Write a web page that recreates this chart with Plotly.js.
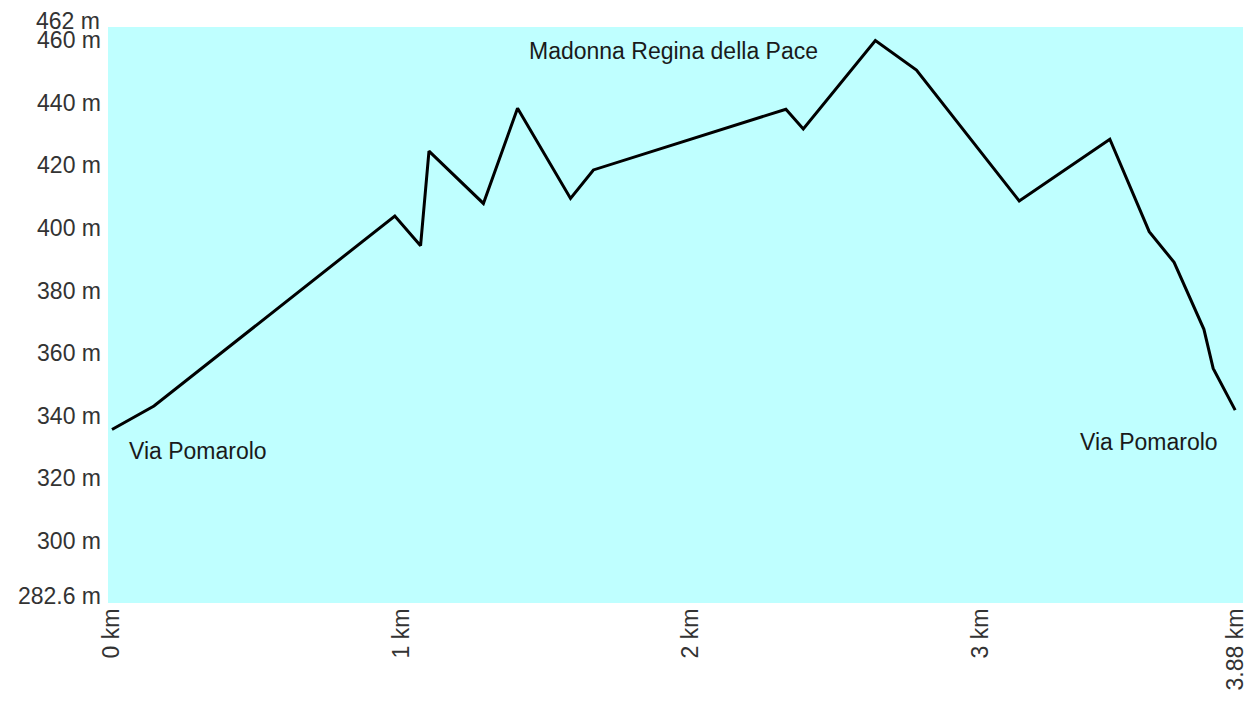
<!DOCTYPE html>
<html>
<head>
<meta charset="utf-8">
<script src="https://cdn.plot.ly/plotly-3.0.1.min.js"></script>
<style>html,body{margin:0;padding:0;background:#fff;}#chart{width:1252px;height:702px;}</style>
</head>
<body>
<div id="chart"></div>
<script>
// Distance along route (km) and elevation (m)
const distanceKm = [0, 0.145, 0.977, 1.066, 1.095, 1.283, 1.401, 1.584, 1.663, 2.328, 2.388, 2.637, 2.779, 3.134, 3.447, 3.583, 3.669, 3.772, 3.804, 3.88];
const elevationM = [335.6, 343.1, 403.8, 394.3, 424.5, 407.8, 438.2, 409.4, 418.5, 437.9, 431.6, 459.8, 450.4, 408.6, 428.3, 398.8, 389.0, 367.6, 355.1, 341.8];

// Axis ticks
const xTickVals = [0, 1, 2, 3, 3.88];
const xTickText = ["0 km", "1 km", "2 km", "3 km", "3.88 km"];
const yTickVals = [282.6, 300, 320, 340, 360, 380, 400, 420, 440, 460];
const yTickText = ["282.6 m", "300 m", "320 m", "340 m", "360 m", "380 m", "400 m", "420 m", "440 m", "460 m"];
const yTopLabel = {value: 462, text: "462 m"};

// Place labels
const labelText = ["Madonna Regina della Pace", "Via Pomarolo", "Via Pomarolo"];
const labelX = [1.94, 0.052, 3.336];
const labelY = [456.5, 328.9, 331.5];
const labelAnchor = ["center", "left", "left"];

const font = "Liberation Sans, Arial, sans-serif";
const fs = 23;

const annotations = labelText.map((t, i) => ({
  text: t, x: labelX[i], y: labelY[i], xref: "x", yref: "y",
  xanchor: labelAnchor[i], yanchor: "middle", showarrow: false,
  font: {family: font, size: fs, color: "#1a1a1a"}
}));
annotations.push({
  text: yTopLabel.text, x: 0, xref: "paper", y: yTopLabel.value, yref: "y",
  xanchor: "right", yanchor: "middle", xshift: -6, yshift: 13, showarrow: false,
  font: {family: font, size: fs, color: "#333"}
});

Plotly.newPlot("chart", [{
  x: distanceKm, y: elevationM, type: "scatter", mode: "lines",
  line: {color: "#000", width: 3}, hoverinfo: "skip"
}], {
  width: 1252, height: 702,
  margin: {l: 108, r: 9, t: 27, b: 99, pad: 0},
  paper_bgcolor: "#ffffff",
  plot_bgcolor: "#bfffff",
  showlegend: false,
  xaxis: {
    range: [-0.0138, 3.907], tickvals: xTickVals, ticktext: xTickText,
    tickangle: -90, showgrid: false, zeroline: false, showline: false, ticks: "",
    ticklabelstandoff: 0,
    tickfont: {family: font, size: fs, color: "#333"}
  },
  yaxis: {
    range: [280.2, 464.15], tickvals: yTickVals, ticktext: yTickText,
    showgrid: false, zeroline: false, showline: false, ticks: "",
    ticklabelstandoff: 6,
    tickfont: {family: font, size: fs, color: "#333"}
  },
  annotations: annotations
}, {staticPlot: true, displayModeBar: false});
</script>
</body>
</html>
